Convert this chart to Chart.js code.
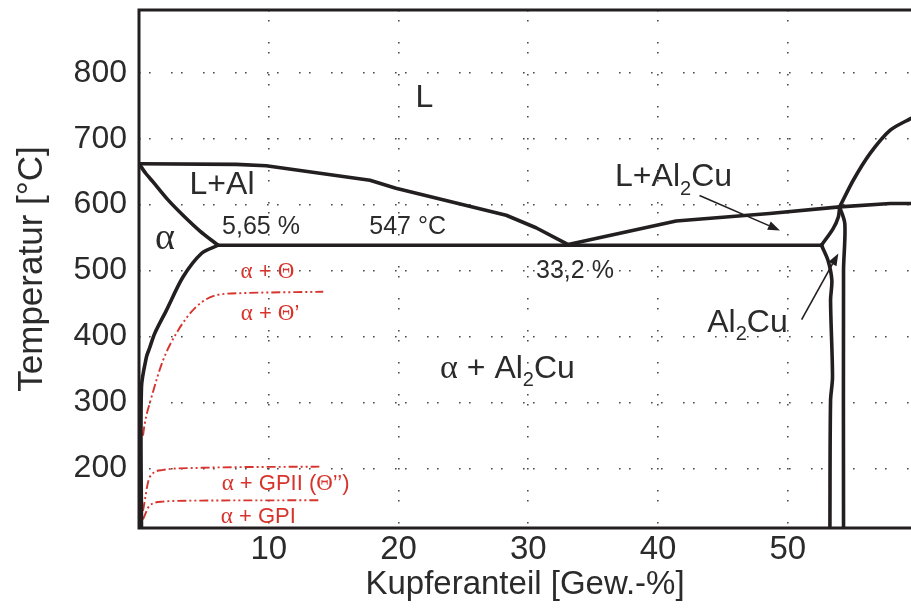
<!DOCTYPE html>
<html><head><meta charset="utf-8">
<script src="https://cdn.jsdelivr.net/npm/chart.js@4/dist/chart.umd.min.js"></script>
<style>html,body{margin:0;padding:0;background:#fff;overflow:hidden}</style>
</head><body>
<canvas id="c" width="911" height="615"></canvas>
<script>
// ---- axis ranges and tick labels ----
const xRange = [0, 59.5];
const yRange = [110, 895];
const xTicks = [10, 20, 30, 40, 50];
const yTicks = [200, 300, 400, 500, 600, 700, 800];

// ---- phase boundaries [Cu wt-%, °C] ----
const liquidusAl   = [[0,662],[7.5,661],[9.8,659],[17.8,637],[19.8,625],[28.3,584],[30.6,565],[33.08,539.5]];
const solidusAl    = [[0,662],[0.5,648],[1.08,634.5],[2.2,608],[3.39,584],[4.7,560],[6.09,538.5]];
const eutectic     = [[6.09,538.5],[52.6,538.5]];
const solvusAl     = [[6.09,538.5],[4.81,526],[3.39,490.3],[2.11,439.8],[1.21,404.8],[0.83,383.5],[0.57,368.8],[0.19,323.3],[0.19,110]];
const al2cuLeft    = [[52.6,538.5],[53.1,515.7],[53.4,485.3],[53.3,455],[53.45,338.5],[53.3,303],[53.25,110]];
const al2cuTop     = [[52.6,538.5],[53.5,563.8],[53.9,581.4],[54.0,596.6]];
const al2cuRight   = [[54.0,596.6],[54.4,571],[54.3,500],[54.3,110]];
const liquidusCu1  = [[33.08,539.5],[41.4,575.3],[48.6,586.6],[54.0,596.6],[57.9,601.8],[59.5,601.8]];
const liquidusCu2  = [[54.0,596.6],[55.05,637],[56.35,677.7],[57.9,713],[59.5,730.8]];
// metastable solvus lines (red, dash-dot-dot)
const thetaPrime   = [[0.31,250],[0.44,268],[0.96,308],[1.85,364],[3.0,409],[4.4,445],[6.0,463],[8.0,466],[14.2,468]];
const gp2          = [[0.31,136],[0.82,187],[1.85,198],[4.4,201],[13.9,203]];
const gp1          = [[0.31,123],[0.82,144],[1.85,150],[4.4,151.5],[13.9,152]];

// ---- annotation texts ----
const labelTexts = [
  [['L']],
  [['L+Al']],
  [['α','s']],
  [['5,65 %']],
  [['547 °C']],
  [['33,2 %']],
  [['L+Al'],['2','sub'],['Cu']],
  [['Al'],['2','sub'],['Cu']],
  [['α','s'],[' + Al'],['2','sub'],['Cu']],
  [['α','s'],[' + '],['Θ','s']],
  [['α','s'],[' + '],['Θ','s'],['’']],
  [['α','s'],[' + GPII ('],['Θ','s'],['’’)']],
  [['α','s'],[' + GPI']]
];
const labelAnchors = [[22.0,762],[6.4,630],[2.0,548],[9.4,566],[20.7,566],[33.6,500],[41.2,641],[46.9,421],[28.4,351],[9.9,498],[10.1,435],[11.3,177],[9.2,127]];
const labelSizes = [32,32,36,25,25,25,32,32,32,22,22,22,22];
const labelRed   = [0,0,0,0,0,0,0,0,0,1,1,1,1];

// ---- arrows [from, to] ----
const arrows = [[[43.2,614],[49.4,561]], [[51.07,425.7],[53.9,526]]];

const BLACK = '#231f20', RED = '#d6342c';
const pts = a => a.map(([x,y]) => ({x, y}));
const blackSet = (d, t) => ({data: pts(d), borderColor: BLACK, borderWidth: 3.6, pointRadius: 0, showLine: true, tension: t || 0, borderJoinStyle: 'round', borderCapStyle: 'round'});
const redSet = d => ({data: pts(d), borderColor: RED, borderWidth: 1.9, pointRadius: 0, showLine: true, cubicInterpolationMode: 'monotone', borderDash: [9,3,2,3,2,3]});

const overlay = {
  id: 'overlay',
  afterDatasetsDraw(chart) {
    const {ctx, chartArea: a, scales: {x, y}} = chart;
    ctx.save();
    // frame (top, left, bottom)
    ctx.strokeStyle = BLACK; ctx.lineWidth = 3;
    ctx.beginPath();
    ctx.moveTo(a.right + 2, a.top); ctx.lineTo(a.left, a.top); ctx.lineTo(a.left, a.bottom); ctx.lineTo(a.right + 2, a.bottom);
    ctx.stroke();
    // arrows
    ctx.lineWidth = 1.6; ctx.fillStyle = BLACK;
    arrows.forEach(([p, q]) => {
      const x1 = x.getPixelForValue(p[0]), y1 = y.getPixelForValue(p[1]);
      const x2 = x.getPixelForValue(q[0]), y2 = y.getPixelForValue(q[1]);
      const ang = Math.atan2(y2 - y1, x2 - x1), L = 12, W = 4.5;
      ctx.beginPath(); ctx.moveTo(x1, y1); ctx.lineTo(x2 - L * Math.cos(ang), y2 - L * Math.sin(ang)); ctx.stroke();
      ctx.beginPath(); ctx.moveTo(x2, y2);
      ctx.lineTo(x2 - L * Math.cos(ang) + W * Math.sin(ang), y2 - L * Math.sin(ang) - W * Math.cos(ang));
      ctx.lineTo(x2 - L * Math.cos(ang) - W * Math.sin(ang), y2 - L * Math.sin(ang) + W * Math.cos(ang));
      ctx.closePath(); ctx.fill();
    });
    // labels
    ctx.textBaseline = 'middle'; ctx.textAlign = 'left';
    labelTexts.forEach((parts, i) => {
      const size = labelSizes[i];
      const fontFor = p => p[1] === 'sub' ? `${Math.round(size * 0.62)}px "Liberation Sans", Arial, sans-serif`
                        : p[1] === 's' ? `${Math.round(size * 1.05)}px "Liberation Serif", "Times New Roman", serif`
                        : `${size}px "Liberation Sans", Arial, sans-serif`;
      let w = 0;
      parts.forEach(p => { ctx.font = fontFor(p); w += ctx.measureText(p[0]).width; });
      let cx = x.getPixelForValue(labelAnchors[i][0]) - w / 2;
      const cy = y.getPixelForValue(labelAnchors[i][1]);
      ctx.fillStyle = labelRed[i] ? RED : '#2b2b2b';
      parts.forEach(p => {
        ctx.font = fontFor(p);
        ctx.fillText(p[0], cx, cy + (p[1] === 'sub' ? size * 0.36 : 0));
        cx += ctx.measureText(p[0]).width;
      });
    });
    ctx.restore();
  }
};

const noPad = s => { s.paddingTop = 0; s.paddingBottom = 0; s.paddingLeft = 0; s.paddingRight = 0; };
const gridCommon = {color: '#4a4a4a', lineWidth: 1.6, drawTicks: false};
new Chart(document.getElementById('c'), {
  type: 'scatter',
  data: {datasets: [
    blackSet(liquidusAl), blackSet(solidusAl, 0.25), blackSet(eutectic), blackSet(solvusAl, 0.3),
    blackSet(al2cuLeft, 0.3), blackSet(al2cuTop, 0.3), blackSet(al2cuRight, 0.3),
    blackSet(liquidusCu1), blackSet(liquidusCu2, 0.25),
    redSet(thetaPrime), redSet(gp2), redSet(gp1)
  ]},
  options: {
    responsive: false, animation: false, events: [],
    layout: {padding: {top: 10, right: 0, left: 0, bottom: 0}},
    plugins: {legend: {display: false}, tooltip: {enabled: false}},
    scales: {
      x: {
        type: 'linear', min: xRange[0], max: xRange[1],
        afterBuildTicks: s => { s.ticks = xTicks.map(v => ({value: v})); },
        afterFit: s => { s.height = 87; noPad(s); },
        grid: gridCommon, border: {display: false, dash: [1.6, 8.4, 1.6, 20.4]},
        ticks: {color: '#2b2b2b', padding: 2, font: {family: '"Liberation Sans", Arial, sans-serif', size: 33}, maxRotation: 0},
        title: {display: true, text: 'Kupferanteil [Gew.-%]', color: '#2b2b2b', padding: {top: 0, bottom: 14}, font: {family: '"Liberation Sans", Arial, sans-serif', size: 33, lineHeight: 1}}
      },
      y: {
        type: 'linear', min: yRange[0], max: yRange[1],
        afterBuildTicks: s => { s.ticks = yTicks.map(v => ({value: v})); },
        afterFit: s => { s.width = 139; noPad(s); },
        grid: gridCommon, border: {display: false, dash: [1.6, 8.4, 1.6, 20.4]},
        ticks: {color: '#2b2b2b', padding: 12, font: {family: '"Liberation Sans", Arial, sans-serif', size: 32}},
        title: {display: true, text: 'Temperatur [°C]', color: '#2b2b2b', padding: {top: 15, bottom: 0}, font: {family: '"Liberation Sans", Arial, sans-serif', size: 35, lineHeight: 1}}
      }
    }
  },
  plugins: [overlay]
});
</script>
</body></html>
